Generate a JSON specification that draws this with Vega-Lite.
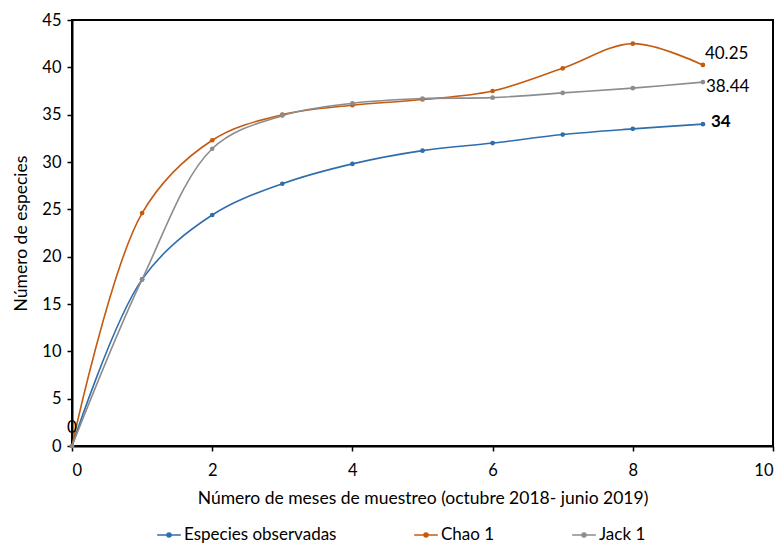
{
  "$schema": "https://vega.github.io/schema/vega-lite/v6.json",
  "width": 701,
  "height": 426,
  "autosize": "none",
  "padding": {"left": 72, "top": 20, "right": 10, "bottom": 99},
  "background": "white",
  "config": {
    "font": "Lato",
    "view": {"stroke": "black", "strokeWidth": 2},
    "axis": {"grid": false, "domainColor": "black", "domainWidth": 2, "tickColor": "black", "tickWidth": 1.5, "tickSize": 5, "labelColor": "black", "labelFontSize": 16.5, "titleFontSize": 17.5, "titleFontWeight": "normal", "titleColor": "black", "labelFont": "Lato", "titleFont": "Lato"}
  },
  "data": {"values": [
    {"mes": 0, "serie": "Especies observadas", "valor": 0},
    {"mes": 1, "serie": "Especies observadas", "valor": 17.6},
    {"mes": 2, "serie": "Especies observadas", "valor": 24.4},
    {"mes": 3, "serie": "Especies observadas", "valor": 27.7},
    {"mes": 4, "serie": "Especies observadas", "valor": 29.8},
    {"mes": 5, "serie": "Especies observadas", "valor": 31.2},
    {"mes": 6, "serie": "Especies observadas", "valor": 32.0},
    {"mes": 7, "serie": "Especies observadas", "valor": 32.9},
    {"mes": 8, "serie": "Especies observadas", "valor": 33.5},
    {"mes": 9, "serie": "Especies observadas", "valor": 34},
    {"mes": 0, "serie": "Chao 1", "valor": 0},
    {"mes": 1, "serie": "Chao 1", "valor": 24.6},
    {"mes": 2, "serie": "Chao 1", "valor": 32.3},
    {"mes": 3, "serie": "Chao 1", "valor": 35.0},
    {"mes": 4, "serie": "Chao 1", "valor": 36.0},
    {"mes": 5, "serie": "Chao 1", "valor": 36.6},
    {"mes": 6, "serie": "Chao 1", "valor": 37.5},
    {"mes": 7, "serie": "Chao 1", "valor": 39.9},
    {"mes": 8, "serie": "Chao 1", "valor": 42.5},
    {"mes": 9, "serie": "Chao 1", "valor": 40.25},
    {"mes": 0, "serie": "Jack 1", "valor": 0},
    {"mes": 1, "serie": "Jack 1", "valor": 17.6},
    {"mes": 2, "serie": "Jack 1", "valor": 31.4},
    {"mes": 3, "serie": "Jack 1", "valor": 34.9},
    {"mes": 4, "serie": "Jack 1", "valor": 36.2},
    {"mes": 5, "serie": "Jack 1", "valor": 36.7},
    {"mes": 6, "serie": "Jack 1", "valor": 36.8},
    {"mes": 7, "serie": "Jack 1", "valor": 37.3},
    {"mes": 8, "serie": "Jack 1", "valor": 37.8},
    {"mes": 9, "serie": "Jack 1", "valor": 38.44}
  ]},
  "encoding": {
    "x": {"field": "mes", "type": "quantitative", "scale": {"domain": [0, 10], "nice": false}, "axis": {"values": [0, 2, 4, 6, 8, 10], "title": "Número de meses de muestreo (octubre 2018- junio 2019)", "labelPadding": 11, "titlePadding": 11}},
    "y": {"field": "valor", "type": "quantitative", "scale": {"domain": [0, 45], "nice": false}, "axis": {"values": [0, 5, 10, 15, 20, 25, 30, 35, 40, 45], "title": "Número de especies", "labelPadding": 6, "titlePadding": 11}}
  },
  "layer": [
    {
      "mark": {"type": "line", "interpolate": "catmull-rom", "strokeWidth": 1.6},
      "encoding": {
        "color": {"field": "serie", "type": "nominal",
          "scale": {"domain": ["Especies observadas", "Chao 1", "Jack 1"], "range": ["#2f6ead", "#c55a11", "#8c8c8c"]},
          "legend": {"title": null, "orient": "none", "direction": "horizontal", "legendX": 84, "legendY": 502,
            "symbolType": "M-1,0L1,0M-0.17,0a0.17,0.17 0 1,0 0.34,0a0.17,0.17 0 1,0 -0.34,0",
            "symbolSize": 560, "symbolStrokeWidth": 1.5, "labelFontSize": 17, "labelColor": "black", "labelFont": "Lato", "columnPadding": 74, "labelOffset": 2,
            "encode": {"symbols": {"update": {"fill": {"scale": "color", "field": "value"}, "stroke": {"scale": "color", "field": "value"}}}}}
        }
      }
    },
    {
      "mark": {"type": "point", "filled": true, "size": 22, "opacity": 1},
      "encoding": {"color": {"field": "serie", "type": "nominal", "legend": null}}
    },
    {
      "transform": [{"filter": "datum.mes == 0 && datum.serie == 'Especies observadas'"}],
      "mark": {"type": "text", "align": "center", "baseline": "bottom", "dy": -9, "fontSize": 17, "color": "black"},
      "encoding": {"text": {"field": "valor", "type": "nominal"}}
    },
    {
      "transform": [{"filter": "datum.mes == 9 && datum.serie == 'Chao 1'"}],
      "mark": {"type": "text", "align": "left", "baseline": "middle", "dx": 2, "dy": -11, "fontSize": 17, "color": "black"},
      "encoding": {"text": {"field": "valor", "type": "nominal"}}
    },
    {
      "transform": [{"filter": "datum.mes == 9 && datum.serie == 'Jack 1'"}],
      "mark": {"type": "text", "align": "left", "baseline": "middle", "dx": 3, "dy": 5, "fontSize": 17, "color": "black"},
      "encoding": {"text": {"field": "valor", "type": "nominal"}}
    },
    {
      "transform": [{"filter": "datum.mes == 9 && datum.serie == 'Especies observadas'"}],
      "mark": {"type": "text", "align": "left", "baseline": "middle", "dx": 8, "dy": -2, "fontSize": 17, "fontWeight": "bold", "color": "black"},
      "encoding": {"text": {"field": "valor", "type": "nominal"}}
    }
  ]
}
